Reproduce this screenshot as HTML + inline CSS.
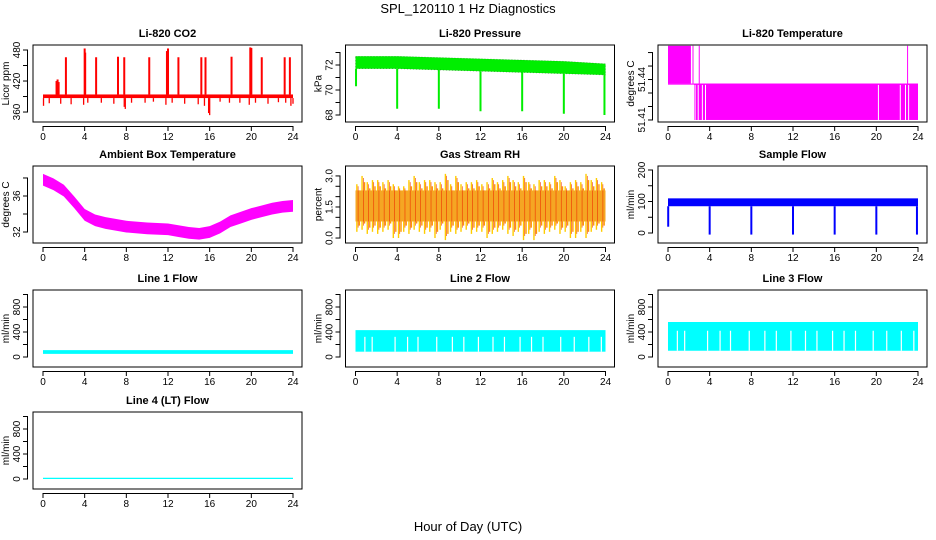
<!DOCTYPE html>
<html><head><meta charset="utf-8">
<style>
html,body{margin:0;padding:0;background:#fff;}
svg{display:block;font-family:"Liberation Sans",Arial,sans-serif;}
</style></head>
<body>
<svg id="chart" width="936" height="540" viewBox="0 0 936 540" xmlns="http://www.w3.org/2000/svg">
<text x="468" y="13" text-anchor="middle" font-size="13">SPL_120110  1 Hz Diagnostics</text>
<text x="468" y="531" text-anchor="middle" font-size="13">Hour of Day (UTC)</text>
</svg>
<script>
// ---------- data ----------
const xTicks = [0,4,8,12,16,20,24];
// CO2
const co2Base = [387, 394];
const co2SpikeT = [1.3,1.4,1.5,2.2,4.0,4.05,5.1,7.2,7.8,10.2,11.9,12.0,13.0,15.2,15.6,18.1,19.9,20.0,21.0,23.2,23.7];
const co2SpikeV = [420,423,418,466,483,475,466,467,466,466,478,483,466,466,466,467,485,484,466,466,466];
const co2DipT = [0.05,0.6,1.7,2.7,3.9,4.3,5.6,6.8,7.8,7.9,8.5,9.8,10.6,11.8,12.4,13.6,14.9,15.5,15.9,16.0,17.0,17.9,18.9,19.8,20.4,21.6,22.6,23.3,23.8,24.0];
const co2DipV = [372,377,376,375,374,378,378,376,370,366,378,378,380,374,378,376,375,372,358,354,380,378,378,374,378,376,379,378,372,376];
// Pressure
const presT = [0,4,8,12,16,20,24];
const presHi = [72.7,72.7,72.6,72.5,72.4,72.3,72.1];
const presLo = [71.7,71.7,71.6,71.5,71.4,71.3,71.2];
const presDipT = [0.05,4,8,12,16,20,23.9];
const presDipV = [70.3,68.5,68.5,68.3,68.3,68.1,68.0];
// Li-820 temperature
const tempHiT = [0.0, 2.2];
const tempHiV = [51.437, 51.465];
const tempLoT = [2.5, 24.0];
const tempLoV = [51.41, 51.437];
const tempGapT = [2.3,2.6,2.9,3.3,3.6,20.2,22.3,22.8,23.1];
// Ambient box temperature
const ambT = [0,1,2,3,4,5,6,8,10,12,13,14,15,16,17,18,19,20,21,22,23,24];
const ambV = [37.8,37.3,36.6,35.3,33.9,33.3,33.0,32.6,32.4,32.3,32.1,31.9,31.8,32.0,32.5,33.2,33.6,34.0,34.3,34.6,34.8,34.9];
// Gas stream RH (half-hour extremes)
const rhHi = [2.6,3.0,2.7,2.8,2.8,2.7,2.8,2.6,2.5,2.5,2.8,3.0,2.7,2.8,2.8,2.7,2.7,3.1,2.6,3.0,2.6,2.7,2.7,2.8,2.6,2.7,2.9,2.7,2.8,3.0,2.8,2.7,3.0,2.7,2.6,2.8,2.8,2.7,3.0,2.8,2.5,2.7,2.8,2.7,3.1,2.8,2.9,2.7];
const rhLo = [0.3,0.4,0.2,0.3,0.2,0.3,0.4,0.0,0.0,0.3,0.2,0.4,0.3,0.2,0.3,0.0,0.4,-0.1,0.3,0.2,0.3,0.4,0.2,0.3,0.3,0.0,0.2,0.3,0.4,0.2,0.1,0.3,-0.1,0.2,-0.1,0.3,0.2,0.3,0.4,0.2,0.3,0.0,0.0,0.3,0.0,0.3,0.4,0.3];
const rhCore = [0.8, 2.3];
// Sample flow
const sfBand = [85, 110];
const sfDipT = [0.02,4,8,12,16,20,23.9];
const sfDipV = [20,-5,-5,-5,-5,-5,-5];
// Line flows
const l1Band = [50, 110];
const l2Band = [85, 430];
const l3Band = [100, 560];
const l4Band = [0, 20];
const lineGapT = [0.9,1.6,3.8,5.0,6.0,7.8,9.3,10.4,11.8,13.2,14.3,15.8,16.9,18.0,19.7,21.0,22.4,23.6];

// ---------- layout ----------
const NS = 'http://www.w3.org/2000/svg';
const svg = document.getElementById('chart');
const colLeft = c => 33 + 312.5*c;
const rowTop = [45,166,290,412];
const BW = 269, BH = 77;
function mk(tag, attrs, parent){ const e=document.createElementNS(NS,tag); for(const k in attrs) e.setAttribute(k,attrs[k]); (parent||svg).appendChild(e); return e; }

function panel(r,c,title,ylab,lo,hi,ticks,labs,name){
  const L=colLeft(c), T=rowTop[r];
  const g = mk('g',{});
  
  
  const xs = t => L+10+(t/24)*250;
  const ys = v => T+BH-(v-lo)/(hi-lo)*BH;
  const plot = mk('g',{},g);
  
  
  const box = mk('rect',{x:L,y:T,width:BW,height:BH,fill:'none',stroke:'#000','stroke-width':1},g);
  
  
  const tt = mk('text',{x:L+BW/2,y:T-8,'text-anchor':'middle','font-size':11,'font-weight':'bold'},g);
  tt.textContent=title;
  
  
  const yl = mk('text',{transform:`translate(${L-24},${T+BH/2}) rotate(-90)`,'text-anchor':'middle','font-size':10},g);
  yl.textContent=ylab;
  
  
  // x axis
  mk('line',{x1:xs(0),x2:xs(24),y1:T+BH+0.5+4,y2:T+BH+0.5+4,stroke:'#000'},g);
  xTicks.forEach(t=>{
    mk('line',{x1:xs(t),x2:xs(t),y1:T+BH+4,y2:T+BH+9,stroke:'#000'},g);
    const tx=mk('text',{x:xs(t),y:T+BH+18,'text-anchor':'middle','font-size':10},g);
    tx.textContent=t;
    
    
  });
  // y axis
  mk('line',{x1:L-5.5,x2:L-5.5,y1:ys(ticks[0]),y2:ys(ticks[ticks.length-1]),stroke:'#000'},g);
  ticks.forEach(v=>{
    mk('line',{x1:L-10,x2:L-5,y1:ys(v),y2:ys(v),stroke:'#000'},g);
  });
  labs.forEach(v=>{
    const ty=mk('text',{transform:`translate(${L-13},${ys(v)}) rotate(-90)`,'text-anchor':'middle','font-size':10},g);
    ty.textContent=v;
    
    
  });
  return {xs,ys,g:plot};
}
function vbar(p,t,v1,v2,color,w){ mk('line',{x1:p.xs(t),x2:p.xs(t),y1:p.ys(v1),y2:p.ys(v2),stroke:color,'stroke-width':w||1.5},p.g); }
function band(p,t1,t2,v1,v2,color){ mk('rect',{x:p.xs(t1),y:p.ys(v2),width:p.xs(t2)-p.xs(t1),height:p.ys(v1)-p.ys(v2),fill:color},p.g); }

// CO2
let p = panel(0,0,'Li-820 CO2','Licor ppm',340.7,489.7,[360,390,420,450,480],[360,420,480],'co2');
band(p,0,24,co2Base[0],co2Base[1],'#ff0000');
co2SpikeT.forEach((t,i)=>vbar(p,t,co2Base[1],co2SpikeV[i],'#ff0000',2));
co2DipT.forEach((t,i)=>vbar(p,t,co2Base[0],co2DipV[i],'#ff0000',1.3));
// Pressure
p = panel(0,1,'Li-820 Pressure','kPa',67.44,73.6,[68,69,70,71,72,73],[68,70,72],'pressure');
{ let pts=presT.map((t,i)=>`${p.xs(t)},${p.ys(presHi[i])}`).concat(presT.slice().reverse().map((t,j)=>{const i=presT.length-1-j;return `${p.xs(t)},${p.ys(presLo[i])}`;}));
  mk('polygon',{points:pts.join(' '),fill:'#00ee00'},p.g);
  mk('polygon',{points:pts.join(' '),fill:'none',stroke:'#000','stroke-width':0.6,'stroke-dasharray':'1 2',opacity:0.4},p.g); }
presDipT.forEach((t,i)=>vbar(p,t,presLo[Math.min(i,presLo.length-1)],presDipV[i],'#00ee00',2));
// Li-820 temperature
p = panel(0,2,'Li-820 Temperature','degrees C',51.4085,51.4656,[51.41,51.42,51.43,51.44,51.45,51.46],[51.41,51.44],'li820-temp');
band(p,tempHiT[0],tempHiT[1],tempHiV[0],tempHiV[1],'#ff00ff');
band(p,tempHiT[0],tempLoT[1],tempLoV[1]-0.0008,tempLoV[1],'#ff00ff');
band(p,tempLoT[0],tempLoT[1],tempLoV[0],tempLoV[1],'#ff00ff');
[2.4,3.0,23.0].forEach(t=>vbar(p,t,tempLoV[1],tempHiV[1],'#ff00ff',1));
tempGapT.forEach(t=>vbar(p,t,tempLoV[0],tempLoV[1]-0.001,'#ffffff',1));
// Ambient
p = panel(1,0,'Ambient Box Temperature','degrees C',30.78,39.33,[32,34,36,38],[32,36],'ambient-temp');
{ const w=0.65; let pts=ambT.map((t,i)=>`${p.xs(t)},${p.ys(ambV[i]+w)}`).concat(ambT.slice().reverse().map((t,j)=>{const i=ambT.length-1-j;return `${p.xs(t)},${p.ys(ambV[i]-w)}`;}));
  mk('polygon',{points:pts.join(' '),fill:'#ff00ff'},p.g); }
// RH
p = panel(1,1,'Gas Stream RH','percent',-0.24,3.48,[0,0.5,1,1.5,2,2.5,3],['0.0','1.5','3.0'],'gas-rh');
rhHi.forEach((v,i)=>{ const t=i*0.5+0.25; vbar(p,t-0.12,rhLo[i],v,'#ffcc00',1.4); vbar(p,t+0.12,rhLo[i]+0.3,v-0.3,'#ff9900',1.4); });
band(p,0,24,rhCore[0],rhCore[1],'#f5a623');
rhHi.forEach((v,i)=>{ const t=i*0.5+0.25; vbar(p,t,rhLo[i]+0.2,v-0.1,'#ee3300',0.6); });
// Sample flow
p = panel(1,2,'Sample Flow','ml/min',-31.7,212.7,[0,50,100,150,200],[0,100,200],'sample-flow');
band(p,0,24,sfBand[0],sfBand[1],'#0000ff');
sfDipT.forEach((t,i)=>vbar(p,t,sfBand[0],sfDipV[i],'#0000ff',2));
// Lines
const lf=[[2,0,'Line 1 Flow',l1Band,'line1-flow'],[2,1,'Line 2 Flow',l2Band,'line2-flow'],[2,2,'Line 3 Flow',l3Band,'line3-flow'],[3,0,'Line 4 (LT) Flow',l4Band,'line4-flow']];
lf.forEach(([r,c,tt,b,nm])=>{
  const q = panel(r,c,tt,'ml/min',-160,1072,[0,200,400,600,800,1000],[0,400,800],nm);
  band(q,0,24,b[0],b[1],'#00ffff');
  if(b[1]>200) lineGapT.forEach(t=>vbar(q,t,b[0],b[1]*0.75,'#ffffff',1.2));
});
</script>
</body></html>
